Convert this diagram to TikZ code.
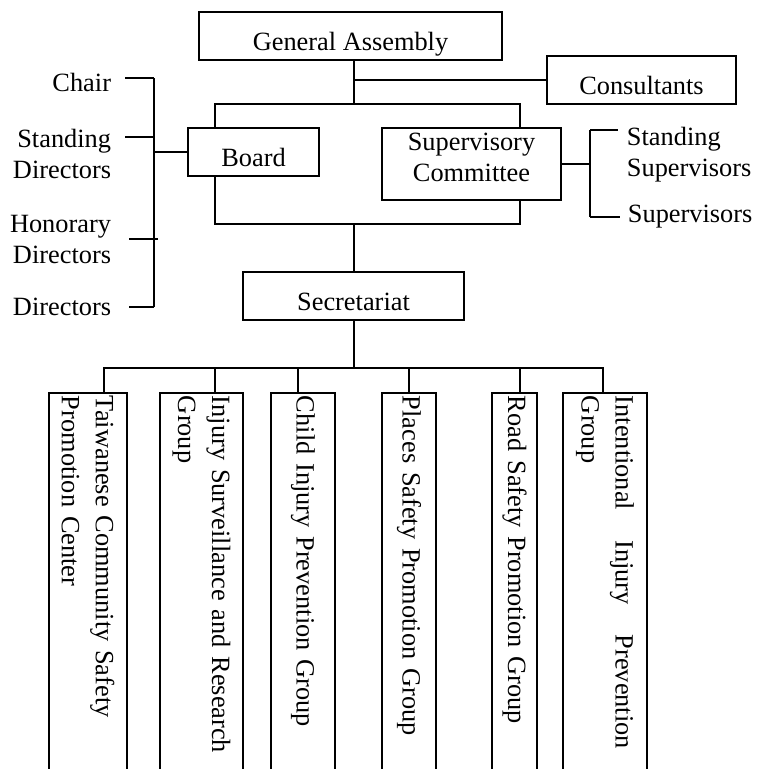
\documentclass[tikz,border=0pt]{standalone}
\usepackage{fontspec}
\setmainfont{Liberation Serif}
\usetikzlibrary{positioning}

\begin{document}
\begin{tikzpicture}[x=0.02cm, y=-0.02cm, line width=1.1pt,
  unit/.style={draw, inner sep=0pt, align=center,
    font=\fontsize{15}{17.6}\selectfont},
  single/.style={unit, text height=0.68cm, text depth=0.12cm},
  post/.style={inner sep=0pt, font=\fontsize{15}{17.6}\selectfont},
  group/.style={draw, rotate=-90, anchor=west, inner xsep=0.06cm, inner ysep=0pt,
    minimum width=8cm, text width=7.88cm, align=left,
    font=\fontsize{15}{19.3}\selectfont}
]

%--- Frame of the page ---
\useasboundingbox (0,0) rectangle (758,769);
\clip (0,0) rectangle (758,769);

% x of the main vertical line
\def\trunk{354}

%--- Boxes ---
\node[single, minimum width=6.06cm, minimum height=0.96cm] (assembly) at (350.5,36) {General Assembly};
\node[single, minimum width=3.78cm, minimum height=0.96cm] (consult) at (641.5,80) {Consultants};
\node[single, minimum width=2.62cm, minimum height=0.96cm] (board) at (253.5,152) {Board};
\node[unit, minimum width=3.58cm, minimum height=1.44cm] (superv) at (471.5,164)
  {Supervisory\\Committee\rule[-0.28cm]{0pt}{0pt}};
\node[single, minimum width=4.42cm, minimum height=0.96cm] (secr) at (353.5,296) {Secretariat};

%--- Posts beside Board and Supervisory Committee ---
\node[post, anchor=base east] (chair) at (112,91) {Chair};
\node[post, anchor=north east, align=right] (standdir) at (112,128) {Standing\\Directors};
\node[post, anchor=north east, align=right] (hondir) at (112,214.5) {Honorary\\Directors};
\node[post, anchor=base east] (dir) at (112,315) {Directors};
\node[post, anchor=north west, align=left] (standsup) at (626,126) {Standing\\Supervisors};
\node[post, anchor=base west] (sup) at (627,222) {Supervisors};

%--- Groups under the Secretariat (open at the bottom) ---
\node[group, minimum height=1.56cm] (g1) at (88,392) {Taiwanese Community Safety\\Promotion Center};
\node[group, minimum height=1.66cm] (g2) at (201.5,392) {Injury Surveillance and Research\\Group};
\node[group, minimum height=1.28cm] (g3) at (303,392) {Child Injury Prevention Group};
\node[group, minimum height=1.08cm] (g4) at (409,392) {Places Safety Promotion Group};
\node[group, minimum height=0.9cm] (g5) at (514.5,392) {Road Safety Promotion Group};
\node[group, minimum height=1.68cm] (g6) at (605,392)
  {\makebox[7.06cm]{Intentional\hfill Injury\hfill Prevention}\\Group};

%--- Geometry of the connectors ---
\coordinate (railL) at (215,104);
\coordinate (railR) at (520,104);
\coordinate (footL) at (215,224);
\coordinate (footR) at (520,224);
\coordinate (bus) at (\trunk,368);

% General Assembly down to the frame round Board and Committee
\draw (assembly.south -| \trunk,0) -- (railL -| \trunk,0);
\draw (consult.west) -- (consult.west -| \trunk,0);
\draw (board.north -| railL) -- (railL) -- (railR) -- (superv.north -| railR);
\draw (board.south -| footL) -- (footL) -- (footR) -- (superv.south -| footR);

% down to the Secretariat and on to the groups
\draw (footL -| \trunk,0) -- (secr.north -| \trunk,0);
\draw (secr.south -| \trunk,0) -- (bus);
\foreach \g/\dx in {g1/104, g2/215, g3/298, g4/409, g5/520, g6/603}
  \draw (bus) -| (\g.west -| \dx,0);

% bracket of the directors
\coordinate (dirTop) at (154,78);
\coordinate (dirBot) at (154,307);
\draw (dirTop) -- (dirBot);
\draw (dirTop) -- ++(-29,0);
\draw (154,137) -- ++(-29,0);
\draw (158,239) -- ++(-29,0);
\draw (dirBot) -- ++(-25,0);
\draw (board.west) -- (board.west -| dirTop);

% bracket of the supervisors
\coordinate (supTop) at (590,130);
\coordinate (supBot) at (590,217);
\draw (supTop) -- (supBot);
\draw (supTop) -- ++(28,0);
\draw (supBot) -- ++(30,0);
\draw (superv.east) -- (superv.east -| supTop);

\end{tikzpicture}
\end{document}
